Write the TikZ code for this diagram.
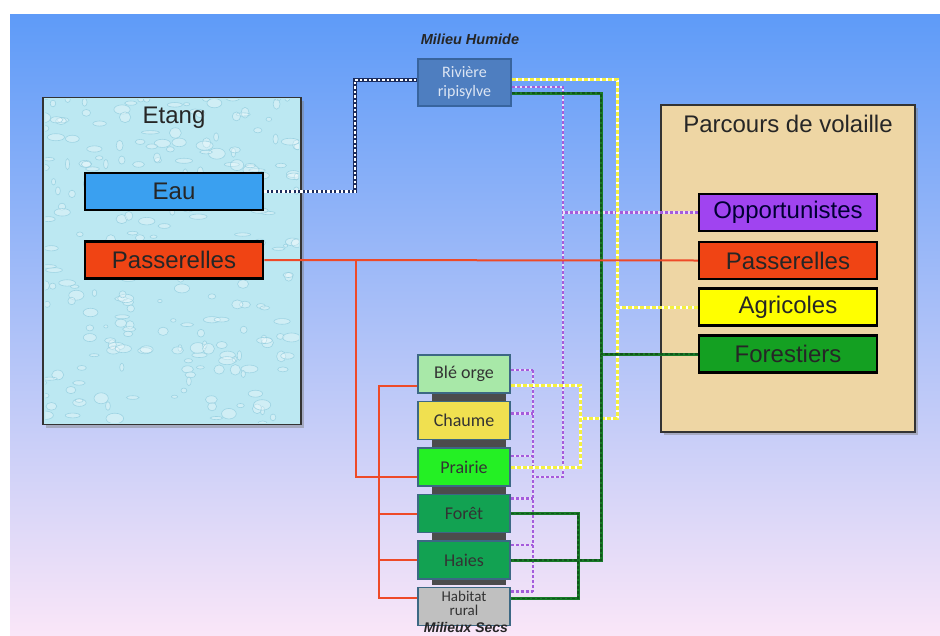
\documentclass[tikz,border=0pt]{standalone}
\usepackage{fontspec}
\setmainfont{Liberation Sans}
\newfontfamily\smallfont{Carlito}
\usetikzlibrary{positioning,shadows}

\definecolor{bgTop}{HTML}{5E9BF8}
\definecolor{bgMid}{HTML}{B8C0F6}
\definecolor{bgBottom}{HTML}{FAE6F8}
\definecolor{etangFill}{HTML}{BCE8F2}
\definecolor{etangDrop}{HTML}{94CEDF}
\definecolor{parcoursFill}{HTML}{EED6A4}
\definecolor{eauFill}{HTML}{3AA0F0}
\definecolor{passFill}{HTML}{F04414}
\definecolor{opportFill}{HTML}{A044F0}
\definecolor{agricFill}{HTML}{FFFF00}
\definecolor{forestFill}{HTML}{14A022}
\definecolor{riviereFill}{HTML}{4E7EC0}
\definecolor{riviereBorder}{HTML}{38649E}
\definecolor{milieuBorder}{HTML}{3C6884}
\definecolor{bleFill}{HTML}{A8E8A8}
\definecolor{chaumeFill}{HTML}{F0E050}
\definecolor{prairieFill}{HTML}{24F024}
\definecolor{foretFill}{HTML}{12A252}
\definecolor{habitatFill}{HTML}{C0C0C0}
\definecolor{eauDark}{HTML}{1C2C5C}
\definecolor{redLine}{HTML}{EE4A28}
\definecolor{purpleLine}{HTML}{A45CDC}
\definecolor{greenLine}{HTML}{187A28}
\definecolor{yellowLine}{HTML}{F4F040}

\begin{document}
\begin{tikzpicture}
    [ x = 1pt, y = -1pt
    , frame/.style =
      { draw=black!80, line width=1.5pt, inner sep=0pt,
        drop shadow={opacity=.45, shadow xshift=3pt, shadow yshift=-3pt} }
    , bigbox/.style =
      { draw=black, line width=2.5pt, minimum width=178pt, minimum height=37pt,
        inner sep=0pt, font=\fontsize{24}{26}\selectfont, text=black!85 }
    , milieu/.style =
      { draw=milieuBorder, line width=1.5pt, minimum width=92pt, minimum height=38pt,
        inner sep=0pt, align=center, font=\smallfont\fontsize{18}{19}\selectfont,
        text=black!80 }
    , title/.style =
      { font=\fontsize{24}{26}\selectfont, text=black!85 }
    , caption/.style =
      { inner sep=0pt, font=\bfseries\itshape\fontsize{14.5}{15}\selectfont, text=black!85 }
    , eaulink/.style =
      { line width=3.5pt, draw=eauDark,
        postaction={draw=white, line width=2.2pt, dash pattern=on 2.5pt off 2pt} }
    , redlink/.style =
      { line width=2pt, draw=redLine }
    , purplelink/.style =
      { line width=2.2pt, draw=white!80!purpleLine,
        postaction={draw=purpleLine, line width=2.2pt, dash pattern=on 3pt off 2pt} }
    , greenlink/.style =
      { line width=3pt, draw=greenLine,
        postaction={draw=greenLine!70!black, line width=1.5pt, dash pattern=on 3pt off 2pt} }
    , yellowlink/.style =
      { line width=3pt, draw=white,
        postaction={draw=yellowLine, line width=3pt, dash pattern=on 4pt off 2pt} }
    ]
    \useasboundingbox (0,0) rectangle (940,635);
    \fill [white] (0,0) rectangle (940,635);
    \shade [top color=bgTop, middle color=bgMid, bottom color=bgBottom] (10,14) rectangle (940,635);

    % Etang
    \node [frame, fill=etangFill, minimum width=258pt, minimum height=327pt] (etang) at (172,261) {};
    \begin{scope}
      \clip ([shift={(3pt,-3pt)}]etang.north west) rectangle ([shift={(-3pt,3pt)}]etang.south east);
      \pgfmathsetseed{11}
      \foreach \i in {1,...,260} {
        \pgfmathsetmacro\dx{rnd*258}
        \pgfmathsetmacro\dy{rnd*327}
        \pgfmathsetmacro\rx{2+rnd*7}
        \pgfmathsetmacro\ry{1.5+rnd*4}
        \filldraw [fill=white, fill opacity=.3, draw=etangDrop, draw opacity=.8, line width=.6pt]
          (etang.north west) ++(\dx,\dy) ellipse [x radius=\rx, y radius=\ry];
      }
    \end{scope}
    \node [title] (etangtitle) at (174,118) {Etang};
    \node [bigbox, fill=eauFill] (eau) at (174,191.5) {Eau};
    \node [bigbox, fill=passFill] (passL) at (174,260) {Passerelles};

    % Parcours de volaille
    \node [frame, fill=parcoursFill, minimum width=254pt, minimum height=327pt] (parcours) at (788,268.5) {};
    \node [title] (parcourstitle) at (788,124) {Parcours de volaille};
    \node [bigbox, fill=opportFill, text=black!80!blue] (opport) at (788,212.5) {Opportunistes};
    \node [bigbox, fill=passFill] (passR) at (788,260.5) {Passerelles};
    \node [bigbox, fill=agricFill] (agric) at (788,307) {Agricoles};
    \node [bigbox, fill=forestFill] (forest) at (788,354) {Forestiers};

    % Milieu humide
    \node [caption] (humide) at (470,39) {Milieu Humide};
    \node [milieu, draw=riviereBorder, fill=riviereFill, minimum width=93pt, minimum height=47pt,
           text=white!80!riviereFill, font=\smallfont\fontsize{16}{19}\selectfont]
      (riviere) at (464.5,82.5) {Rivière\\ripisylve};

    % Milieux secs
    \fill [black!70] (432,390) rectangle (506,585);
    \node [milieu, fill=bleFill] (ble) at (464,374) {Blé orge};
    \node [milieu, fill=chaumeFill] (chaume) [below=7pt of ble] {Chaume};
    \node [milieu, fill=prairieFill] (prairie) [below=7pt of chaume] {Prairie};
    \node [milieu, fill=foretFill] (foret) [below=7pt of prairie] {Forêt};
    \node [milieu, fill=foretFill] (haies) [below=7pt of foret] {Haies};
    \node [milieu, fill=habitatFill, text depth=7pt, font=\smallfont\fontsize{15}{14}\selectfont] (habitat) [below=7pt of haies] {Habitat\\rural};
    \node [caption, font=\bfseries\itshape\fontsize{14}{15}\selectfont] (secs) at (466,627) {Milieux Secs};

    % Eau -- Riviere
    \coordinate (eaubend) at (355,80);
    \draw [eaulink] (eau.east) -| (eaubend) -- (eaubend -| riviere.west);

    % Opportunistes
    \coordinate (purpA) at (563,0);
    \coordinate (purpB) at (533,0);
    \coordinate (purpstart) at ([yshift=-4.5pt]riviere.east);
    \coordinate (purpturn) at (0,477);
    \draw [purplelink] (purpstart) -- (purpstart -| purpA) -- (purpturn -| purpA) -- (purpturn -| purpB);
    \draw [purplelink] (opport.west) -- (opport.west -| purpA);
    \foreach \n/\s in {ble/4,chaume/7,prairie/11,foret/15,haies/15,habitat/15}
      \coordinate (p-\n) at ([yshift=\s pt]\n.east);
    \draw [purplelink] (p-ble -| purpB) -- (p-habitat -| purpB);
    \foreach \n in {ble,chaume,prairie,foret,haies,habitat}
      \draw [purplelink] (p-\n) -- (p-\n -| purpB);

    % Agricoles
    \coordinate (yellowA) at (617,0);
    \coordinate (yellowB) at (580,0);
    \coordinate (yellowstart) at ([yshift=3.5pt]riviere.east);
    \coordinate (yellowturn) at (0,418);
    \draw [yellowlink] (yellowstart) -- (yellowstart -| yellowA) -- (yellowturn -| yellowA) -- (yellowturn -| yellowB);
    \draw [yellowlink] (agric.west) -- (agric.west -| yellowA);
    \coordinate (y-ble) at ([yshift=-11pt]ble.east);
    \draw [yellowlink] (y-ble) -- (y-ble -| yellowB) -- (prairie.east -| yellowB) -- (prairie.east);

    % Forestiers
    \coordinate (greenA) at (601,0);
    \coordinate (greenB) at (578,0);
    \coordinate (greenstart) at ([yshift=-10.5pt]riviere.east);
    \draw [greenlink] (greenstart) -- (greenstart -| greenA) -- (haies.east -| greenA) -- (haies.east);
    \draw [greenlink] (forest.west) -- (forest.west -| greenA);
    \coordinate (g-habitat) at ([yshift=8pt]habitat.east);
    \draw [greenlink] (foret.east) -- (foret.east -| greenB) -- (g-habitat -| greenB) -- (g-habitat);

    % Passerelles
    \draw [redlink] (passL.east) -- (passR.west);
    \coordinate (redtap) at (356,260);
    \coordinate (redbus) at (379,0);
    \coordinate (r-prairie) at ([yshift=-10pt]prairie.west);
    \coordinate (r-ble) at ([yshift=-12pt]ble.west);
    \coordinate (r-habitat) at ([yshift=9pt]habitat.west);
    \draw [redlink] (redtap) |- (r-prairie);
    \draw [redlink] (r-ble) -- (r-ble -| redbus) -- (r-habitat -| redbus) -- (r-habitat);
    \foreach \n in {foret,haies}
      \draw [redlink] (\n.west -| redbus) -- (\n.west);
  \end{tikzpicture}
\end{document}
